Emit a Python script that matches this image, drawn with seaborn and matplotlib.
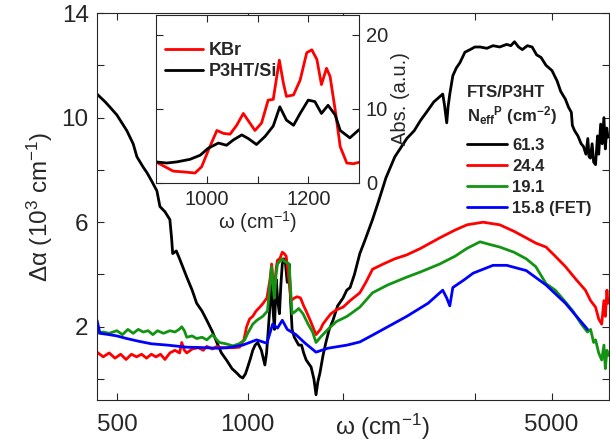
import numpy as np
import seaborn as sns
import matplotlib.pyplot as plt
from matplotlib.ticker import FixedLocator, NullFormatter, FixedFormatter

sns.set_style("ticks")
plt.rcParams["font.family"] = ["Liberation Sans", "DejaVu Sans"]
plt.rcParams["mathtext.fontset"] = "custom"
plt.rcParams["mathtext.rm"] = "Liberation Sans"
plt.rcParams["mathtext.bf"] = "Liberation Sans:bold"
plt.rcParams["mathtext.it"] = "Liberation Sans:italic"

# main spectra: wavenumber (cm-1) and delta alpha (10^3 cm-1)
w_613 = [450, 470, 482, 500, 527, 545, 556, 575, 586, 600, 618, 628, 645, 662, 668, 672, 685, 697,
         724, 745, 763, 785, 805, 830, 849, 870, 896, 920, 944, 960, 974, 988, 1000, 1015, 1027,
         1040, 1054, 1075, 1095, 1105, 1113, 1125, 1135, 1145, 1152, 1158, 1164, 1172, 1183, 1192,
         1201, 1212, 1220, 1233, 1245, 1255, 1265, 1280, 1310, 1330, 1345, 1363, 1399, 1420, 1436,
         1450, 1466, 1490, 1513, 1540, 1571, 1610, 1657, 1690, 1720, 1760, 1811, 1860, 1937, 2000,
         2080, 2180, 2323, 2416, 2500, 2577, 2680, 2765, 2810, 2835, 2855, 2870, 2890, 2917, 2964,
         3020, 3078, 3160, 3248, 3330, 3424, 3550, 3668, 3800, 3943, 4030, 4109, 4200, 4283, 4400,
         4512, 4620, 4730, 4856, 5012, 5150, 5250, 5383, 5470, 5554, 5584, 5650, 5750, 5850, 5920,
         6000, 6060, 6100, 6145, 6200, 6250, 6314, 6380, 6420, 6487, 6540, 6600, 6650, 6700, 6744]
a_613 = [10.9, 10.6, 10.4, 10.1, 9.5, 9.0, 8.5, 8.1, 7.9, 7.6, 7.2, 6.6, 6.4, 6.1, 5.4, 4.8, 4.9, 4.6,
         3.9, 3.4, 2.9, 2.6, 2.25, 1.8, 1.4, 1.0, 0.7, 0.4, 0.23, 0.1, 0.04, 0.2, 0.46, 0.8, 1.1,
         1.3, 1.4, 1.1, 0.54, 1.0, 1.7, 2.8, 3.6, 2.5, 1.9, 3.0, 3.8, 3.0, 2.5, 3.6,
         4.4, 4.6, 4.5, 3.7, 4.4, 3.0, 1.9, 1.6, 1.3, 1.3, 1.0, 0.73, 0.46, 0.0, -0.6,
         -0.1, 0.23, 0.9, 1.4, 1.9, 2.25, 2.8, 3.1, 3.4, 3.5, 4.0, 4.8, 5.3, 6.1, 6.8,
         7.7, 8.5, 9.2, 9.5, 9.9, 10.2, 10.6, 10.8, 10.9, 10.5, 10.1, 9.8, 10.4, 10.9, 11.6,
         11.9, 12.1, 12.5, 12.6, 12.7, 12.7, 12.65, 12.75, 12.7, 12.8, 12.75, 12.9, 12.7, 12.6, 12.75,
         12.7, 12.4, 12.3, 12.0, 11.8, 11.4, 11.0, 10.7, 10.4, 10.2, 9.7, 9.5, 9.3, 9.0, 8.9,
         8.6, 9.2, 8.5, 8.45, 9.0, 8.3, 8.2, 9.3, 8.6, 9.75, 9.0, 10.0, 8.8, 9.6, 9.25]

w_244 = [450, 465, 480, 495, 510, 525, 540, 555, 570, 585, 600, 615, 630, 645, 662, 680, 697, 705,
         715, 724, 745, 770, 790, 805, 830, 849, 870, 896, 925, 958, 980, 994, 1010, 1027, 1045,
         1066, 1085, 1107, 1125, 1135, 1146, 1152, 1164, 1171, 1185, 1201, 1213, 1226, 1240, 1258,
         1280, 1300, 1323, 1345, 1363, 1392, 1436, 1470, 1489, 1520, 1554, 1600, 1657, 1720, 1811,
         1870, 1937, 2050, 2180, 2323, 2500, 2765, 3000, 3196, 3479, 3800, 4100, 4373, 4600, 4856,
         5100, 5383, 5700, 5983, 6150, 6314, 6420, 6523, 6600, 6650, 6706, 6744]
a_244 = [1.03, 0.85, 1.0, 0.8, 0.95, 0.75, 0.95, 0.85, 0.95, 0.8, 0.95, 0.85, 0.95, 0.75, 1.0, 1.1, 1.0, 1.4,
         1.1, 1.0, 1.15, 1.2, 1.1, 1.25, 1.15, 1.25, 1.2, 1.2, 1.2, 1.22, 1.5, 2.0, 2.3, 2.4, 2.6,
         2.75, 2.9, 3.1, 3.8, 4.4, 3.6, 3.5, 4.3, 4.55, 4.6, 4.85, 4.8, 4.7, 4.0, 3.0,
         3.1, 3.15, 3.1, 2.8, 2.6, 2.25, 1.7, 1.9, 2.1, 2.3, 2.5, 2.65, 2.75, 3.0, 3.3,
         3.7, 4.2, 4.4, 4.6, 4.75, 5.0, 5.4, 5.7, 5.9, 6.0, 5.9, 5.65, 5.4, 5.2, 5.05,
         4.7, 4.3, 3.8, 3.4, 3.0, 2.75, 2.3, 2.1, 3.0, 2.4, 3.4, 2.9]

w_191 = [450, 465, 480, 500, 515, 530, 545, 560, 575, 590, 605, 620, 640, 662, 680, 695, 705, 715,
         724, 745, 763, 785, 805, 830, 849, 861, 890, 925, 955, 984, 1000, 1027, 1050, 1083, 1110,
         1125, 1135, 1146, 1152, 1162, 1171, 1185, 1201, 1215, 1245, 1265, 1290, 1310, 1340, 1377,
         1410, 1436, 1470, 1529, 1600, 1693, 1811, 1937, 2100, 2323, 2500, 2765, 3000, 3196, 3424,
         3600, 3800, 4100, 4373, 4600, 4856, 5100, 5383, 5600, 5856, 6050, 6150, 6250, 6314, 6420,
         6523, 6600, 6650, 6706, 6744]
a_191 = [1.75, 1.8, 1.75, 1.85, 1.7, 1.9, 1.75, 1.9, 1.8, 1.85, 1.7, 1.85, 1.75, 1.85, 1.8, 1.9, 2.0, 1.85,
         1.6, 1.65, 1.55, 1.6, 1.5, 1.7, 1.5, 1.4, 1.35, 1.27, 1.35, 1.5, 1.75, 2.1, 2.25, 2.4, 2.6,
         3.6, 4.3, 3.4, 3.1, 4.0, 4.4, 4.5, 4.6, 4.5, 4.4, 2.5, 2.6, 2.7, 2.5, 2.1,
         1.8, 1.4, 1.6, 1.9, 2.2, 2.4, 2.75, 3.3, 3.6, 3.9, 4.1, 4.4, 4.7, 5.0, 5.25,
         5.15, 5.05, 4.85, 4.6, 4.3, 3.65, 3.4, 2.95, 2.6, 2.1, 1.8, 1.9, 1.4, 1.5, 1.0,
         0.73, 1.3, 0.4, 1.1, 0.9]

w_158 = [450, 457, 480, 500, 527, 560, 600, 652, 724, 800, 849, 900, 974, 1048, 1107, 1141, 1171,
         1201, 1233, 1291, 1356, 1436, 1529, 1693, 1811, 1937, 2100, 2323, 2600, 2810, 2870, 2917,
         2964, 3150, 3301, 3668, 3943, 4373, 4856, 5383, 5983, 6050]
a_158 = [2.25, 1.75, 1.7, 1.65, 1.55, 1.45, 1.35, 1.3, 1.22, 1.2, 1.18, 1.2, 1.3, 1.5, 1.37, 2.1, 1.95,
         2.25, 1.9, 1.7, 1.37, 1.03, 1.18, 1.3, 1.42, 1.68, 2.0, 2.4, 2.9, 3.4, 3.1, 2.8,
         3.5, 3.8, 4.05, 4.35, 4.35, 4.15, 3.6, 2.9, 2.0, 1.9]

# inset: absorbance spectra
w_kbr = [900, 934, 954, 977, 990, 1003, 1020, 1033, 1046, 1059, 1072, 1085, 1095, 1108, 1121, 1131,
         1143, 1151, 1157, 1171, 1184, 1197, 1207, 1217, 1226, 1236, 1243, 1253, 1263, 1276, 1289, 1300]
a_kbr = [2.85, 1.6, 1.5, 1.35, 2.2, 4.4, 7.1, 6.7, 6.6, 7.8, 9.4, 8.1, 7.1, 8.1, 11.2, 11.3,
         16.6, 13.5, 11.7, 11.9, 13.9, 17.6, 18.0, 16.7, 13.3, 15.5, 14.4, 9.9, 4.9, 2.7, 2.6, 2.8]
w_si = [900, 921, 941, 967, 987, 1003, 1023, 1039, 1052, 1069, 1082, 1098, 1115, 1131, 1144, 1157,
        1171, 1184, 1200, 1213, 1226, 1239, 1253, 1263, 1282, 1300]
a_si = [2.85, 2.7, 2.85, 3.2, 3.75, 4.7, 5.4, 5.1, 5.8, 6.5, 6.0, 5.2, 6.3, 7.7, 10.3, 8.5,
        7.8, 9.4, 11.2, 11.0, 9.4, 10.5, 9.2, 7.1, 6.1, 7.2]

main_series = [("61.3", w_613, a_613, "black"),
               ("24.4", w_244, a_244, "#ff0000"),
               ("19.1", w_191, a_191, "#129412"),
               ("15.8 (FET)", w_158, a_158, "#0000ff")]

fig = plt.figure(figsize=(6.1, 4.44), dpi=100)
ax = fig.add_axes([97 / 610, 44 / 444, 512 / 610, 387 / 444])

for lab, w, a, c in main_series:
    sns.lineplot(x=w, y=a, ax=ax, color=c, lw=2, label=lab, sort=False, estimator=None)

ax.set_xscale("log")
ax.set_xlim(450, 6780)
ax.set_ylim(-0.8, 14)
ax.xaxis.set_major_locator(FixedLocator([500, 1000, 5000]))
ax.xaxis.set_major_formatter(FixedFormatter(["500", "1000", "5000"]))
ax.xaxis.set_minor_locator(FixedLocator([1660, 3330]))
ax.xaxis.set_minor_formatter(NullFormatter())
ax.yaxis.set_major_locator(FixedLocator([2, 6, 10, 14]))
ax.yaxis.set_minor_locator(FixedLocator([0, 4, 8, 12]))
ax.tick_params(which="both", direction="in", top=True, right=True, length=5, width=0.8,
               labelsize=17.5)
ax.tick_params(axis="x", pad=10)
ax.tick_params(axis="y", pad=6)
for s in ax.spines.values():
    s.set_linewidth(0.8)
ax.set_xlabel(r"ω (cm$^{-1}$)", fontsize=17.5)
ax.xaxis.set_label_coords(0.557, -0.03)
ax.set_ylabel(r"Δα (10$^{3}$ cm$^{-1}$)", fontsize=17.5, labelpad=5)

# legend title written as two text lines, entries below
ax.text(0.723, 0.795, "FTS/P3HT", transform=ax.transAxes, fontsize=12, fontweight="bold",
        va="center", ha="left")
ax.text(0.723, 0.735, r"$\mathbf{N_{eff}{}^{P}}$ (cm$^{\mathbf{-2}}$)", transform=ax.transAxes,
        fontsize=12, fontweight="bold", va="center", ha="left")
ax.legend(loc="upper left", bbox_to_anchor=(0.723, 0.677), frameon=False,
          prop={"weight": "bold", "size": 12}, handlelength=2.4, handletextpad=0.3,
          labelspacing=0.35, borderpad=0, borderaxespad=0)

# inset
axin = fig.add_axes([156 / 610, 1 - 183 / 444, 203 / 610, 168 / 444])
axin.set_facecolor("white")
sns.lineplot(x=w_kbr, y=a_kbr, ax=axin, color="#ff0000", lw=2, label="KBr", sort=False, estimator=None)
sns.lineplot(x=w_si, y=a_si, ax=axin, color="black", lw=2, label="P3HT/Si", sort=False, estimator=None)
axin.set_xlim(900, 1300)
axin.set_ylim(0, 22.7)
axin.set_xticks([1000, 1100, 1200])
axin.set_xticklabels(["1000", "", "1200"])
axin.set_yticks([0, 10, 20])
axin.tick_params(direction="in", top=True, left=True, right=True, labelleft=False, labelright=True,
                 length=5, width=0.8, labelsize=14.5, pad=5)
for s in axin.spines.values():
    s.set_linewidth(0.8)
axin.yaxis.set_label_position("right")
axin.set_ylabel("Abs. (a.u.)", fontsize=14.5, labelpad=2)
axin.set_xlabel(r"ω (cm$^{-1}$)", fontsize=14.5, labelpad=0)
axin.legend(loc="upper left", bbox_to_anchor=(0.045, 0.84), frameon=False,
            prop={"weight": "bold", "size": 13}, handlelength=2.1, handletextpad=0.3,
            labelspacing=0.25, borderpad=0, borderaxespad=0)

fig.savefig("out.png", dpi=100)
